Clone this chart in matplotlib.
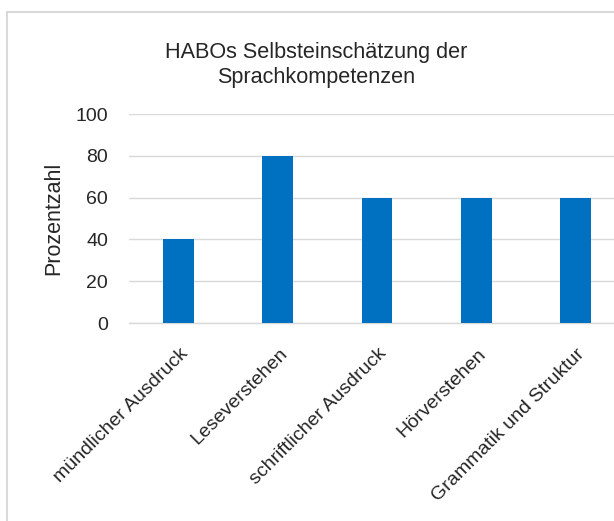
import matplotlib.pyplot as plt
from matplotlib.patches import Rectangle
from matplotlib.transforms import ScaledTranslation

plt.rcParams['font.family'] = ['Liberation Sans', 'DejaVu Sans']

# Data
categories = ["mündlicher Ausdruck", "Leseverstehen", "schriftlicher Ausdruck",
              "Hörverstehen", "Grammatik und Struktur"]
values = [40, 80, 60, 60, 60]
y_ticks = [0, 20, 40, 60, 80, 100]

fig = plt.figure(figsize=(6.14, 5.21), dpi=100)

# light chart-area frame (the right and bottom edges are cut off in the original)
fig.patches.append(Rectangle((7 / 614, -0.1), 2.0, 1 - 12 / 521 + 0.1,
                             transform=fig.transFigure, fill=False,
                             edgecolor='#d9d9d9', linewidth=1.5))

ax = fig.add_axes([129 / 614, 1 - 323 / 521, 496 / 614, 209 / 521])
x = range(len(categories))
ax.bar(x, values, width=0.31, color='#0070C0', zorder=3)

ax.set_xlim(-0.5, len(categories) - 0.5)
ax.set_ylim(0, 100)
ax.set_yticks(y_ticks)
ax.grid(axis='y', color='#d9d9d9', linewidth=1.0, zorder=0)
for side in ['top', 'right', 'left']:
    ax.spines[side].set_visible(False)
ax.spines['bottom'].set_color('#d9d9d9')
ax.spines['bottom'].set_linewidth(1.0)

ax.tick_params(axis='y', length=0, pad=15, labelsize=14, labelcolor='#262626')
ax.tick_params(axis='x', length=0, pad=16)
ax.set_xticks(list(x))
ax.set_xticklabels(categories, rotation=45, ha='right', va='top',
                   rotation_mode='anchor', fontsize=14, color='#262626')
shift = ScaledTranslation(1 / 100, 0, fig.dpi_scale_trans)
for lbl in ax.get_xticklabels():
    lbl.set_transform(lbl.get_transform() + shift)

ax.set_ylabel("Prozentzahl", fontsize=15.5, color='#262626', va='center')
ax.yaxis.set_label_coords(-0.151, 0.5)

fig.text(0.515, 1 - 42 / 521, "HABOs Selbsteinschätzung der\nSprachkompetenzen",
         ha='center', va='top', fontsize=15.6, color='#262626', linespacing=1.25)

fig.savefig("out.png", dpi=100)
